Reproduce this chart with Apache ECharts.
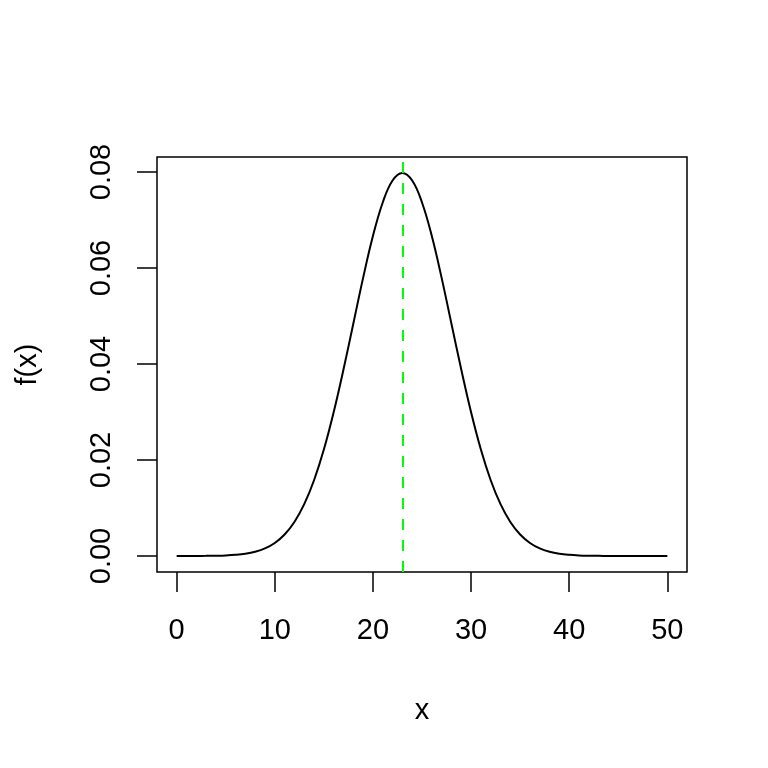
<!DOCTYPE html>
<html>
<head>
<meta charset="utf-8">
<script src="https://cdn.jsdelivr.net/npm/echarts@6/dist/echarts.min.js"></script>
<style>
  html, body { margin: 0; padding: 0; background: #fff; }
  #chart { width: 768px; height: 768px; }
</style>
</head>
<body>
<div id="chart"></div>
<script>
// density, x = 0..50
const xs = [0,1,2,3,4,5,6,7,8,9,10,11,12,13,14,15,16,17,18,19,20,21,22,23,24,25,
  26,27,28,29,30,31,32,33,34,35,36,37,38,39,40,41,42,43,44,45,46,47,48,49,50];
const fx = [0,0,0.00001,0.00003,0.00006,0.00012,0.00025,0.00048,0.00089,0.00158,
  0.00272,0.00448,0.00709,0.01080,0.01579,0.02218,0.02995,0.03884,0.04839,0.05794,
  0.06665,0.07365,0.07821,0.07979,0.07821,0.07365,0.06665,0.05794,0.04839,0.03884,
  0.02995,0.02218,0.01579,0.01080,0.00709,0.00448,0.00272,0.00158,0.00089,0.00048,
  0.00025,0.00012,0.00006,0.00003,0.00001,0,0,0,0,0,0];
const xTicks = [0, 10, 20, 30, 40, 50];
const yTicks = [0, 0.02, 0.04, 0.06, 0.08];
const meanX = 23;

const font = "'Liberation Sans', Arial, Helvetica, sans-serif";
const chart = echarts.init(document.getElementById('chart'));

const option = {
  animation: false,
  backgroundColor: '#fff',
  grid: {
    left: 157, right: 81, top: 157, bottom: 196,
    show: true, borderColor: '#000', borderWidth: 1.5
  },
  xAxis: {
    type: 'value',
    min: -2, max: 52,
    name: 'x',
    nameLocation: 'middle',
    nameGap: 124,
    nameTextStyle: { color: '#000', fontSize: 29, fontFamily: font },
    axisLine: { show: false, onZero: false },
    splitLine: { show: false },
    axisTick: {
      show: true, inside: false, length: 20,
      customValues: xTicks,
      lineStyle: { color: '#000', width: 1.5 }
    },
    axisLabel: {
      customValues: xTicks,
      margin: 44,
      color: '#000', fontSize: 29, fontFamily: font
    }
  },
  yAxis: {
    type: 'value',
    min: -0.00333, max: 0.08312,
    name: 'f(x)',
    nameLocation: 'middle',
    nameRotate: 90,
    nameGap: 115,
    nameTextStyle: { color: '#000', fontSize: 29, fontFamily: font },
    axisLine: { show: false, onZero: false },
    splitLine: { show: false },
    axisTick: {
      show: true, inside: false, length: 20,
      customValues: yTicks,
      lineStyle: { color: '#000', width: 1.5 }
    },
    axisLabel: {
      customValues: yTicks,
      rotate: 90,
      margin: 41,
      color: '#000', fontSize: 29, fontFamily: font,
      formatter: v => v.toFixed(2)
    }
  },
  series: [{
    type: 'line',
    data: xs.map((x, i) => [x, fx[i]]),
    smooth: 0.4,
    showSymbol: false,
    lineStyle: { color: '#000', width: 2 },
    markLine: {
      silent: true,
      symbol: 'none',
      label: { show: false },
      lineStyle: { color: '#00ff00', width: 2, type: [11, 10] },
      data: [{ xAxis: meanX }]
    }
  }]
};
chart.setOption(option);
</script>
</body>
</html>
